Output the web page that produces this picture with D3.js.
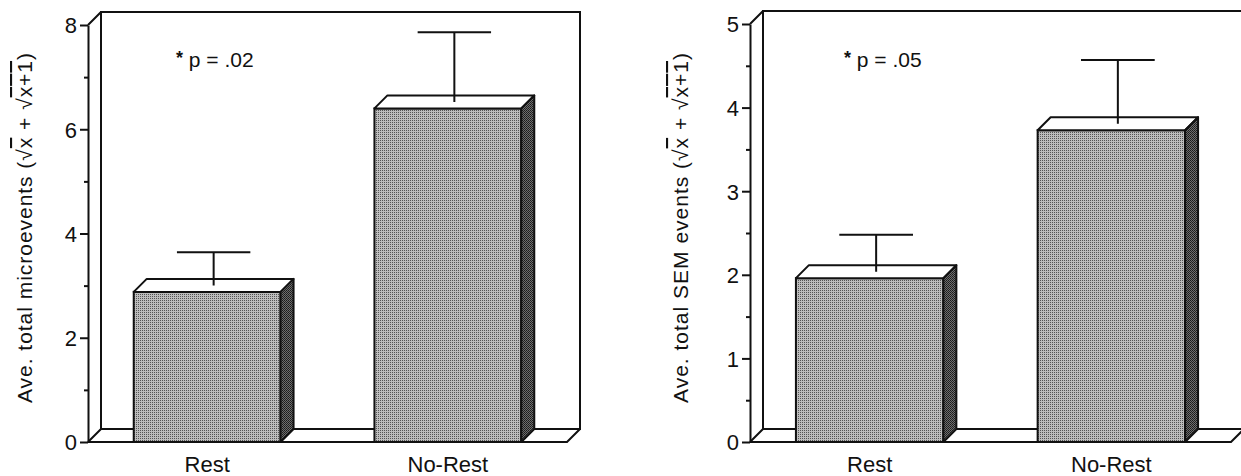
<!DOCTYPE html>
<html>
<head>
<meta charset="utf-8">
<script src="https://cdn.jsdelivr.net/npm/d3@7"></script>
<style>
  body { margin: 0; background: #fff; }
  text { font-family: "Liberation Sans", Arial, Helvetica, sans-serif; fill: #111; }
  .tick line { stroke: #111; stroke-width: 2; }
  .domain { stroke: #111; stroke-width: 2; }
  .ov { text-decoration: overline; }
</style>
</head>
<body>
<div id="chart"></div>
<script>
// data
var categories = ["Rest", "No-Rest"];
var microMeans = [2.88, 6.40];
var microErrTops = [3.64, 7.86];
var semMeans = [1.96, 3.73];
var semErrTops = [2.48, 4.57];
var microTicks = [0, 2, 4, 6, 8];
var microMinorTicks = [1, 3, 5, 7];
var semTicks = [0, 1, 2, 3, 4, 5];
var semMinorTicks = [0.5, 1.5, 2.5, 3.5, 4.5];
var pLabels = ["p = .02", "p = .05"];
var yTitles = ["Ave. total microevents (", "Ave. total SEM events ("];

var W = 1241, H = 476;
var depth = 13;
var baseY = 442;

var svg = d3.select("#chart").append("svg")
    .attr("width", W)
    .attr("height", H);

/***Patterns***/
var defs = svg.append("defs");
var stip = defs.append("pattern").attr("id", "stipple")
    .attr("patternUnits", "userSpaceOnUse").attr("width", 2).attr("height", 2);
stip.append("rect").attr("width", 2).attr("height", 2).attr("fill", "#bdbdbd");
stip.append("rect").attr("width", 1).attr("height", 1).attr("fill", "#555");

var dark = defs.append("pattern").attr("id", "darkside")
    .attr("patternUnits", "userSpaceOnUse").attr("width", 2).attr("height", 2);
dark.append("rect").attr("width", 2).attr("height", 2).attr("fill", "#6e6e6e");
dark.append("rect").attr("width", 1).attr("height", 1).attr("fill", "#1a1a1a");
dark.append("rect").attr("x", 1).attr("y", 1).attr("width", 1).attr("height", 1).attr("fill", "#262626");

var makePanel = function(cfg) {
  var x0 = cfg.left, x1 = cfg.left + cfg.width;

  /***Scales***/
  var yScale = d3.scaleLinear().domain([0, cfg.max]).range([baseY, cfg.top]);
  var xScale = d3.scaleBand().domain(categories)
      .range([x0, x1]).paddingInner(0.39).paddingOuter(0.19);
  var bw = xScale.bandwidth();
  var yTop = yScale(cfg.max), y0 = yScale(0);

  var g = svg.append("g");

  /***Back wall, side wall, floor***/
  g.append("path")
    .attr("d", "M" + (x0 + depth) + "," + (yTop - depth) +
               "L" + (x1 + depth) + "," + (yTop - depth) +
               "L" + (x1 + depth) + "," + (y0 - depth) +
               "L" + (x0 + depth) + "," + (y0 - depth) + "Z")
    .attr("fill", "none").attr("stroke", "#111").attr("stroke-width", 2);
  g.append("path")
    .attr("d", "M" + x0 + "," + yTop + "L" + (x0 + depth) + "," + (yTop - depth) +
               "M" + x0 + "," + y0 + "L" + (x0 + depth) + "," + (y0 - depth) +
               "M" + x0 + "," + y0 + "L" + x1 + "," + y0 + "L" + (x1 + depth) + "," + (y0 - depth))
    .attr("fill", "none").attr("stroke", "#111").attr("stroke-width", 2);

  /***Axes***/
  var yAxis = d3.axisLeft(yScale).tickValues(cfg.ticks).tickSize(8)
      .tickSizeOuter(0).tickPadding(3).tickFormat(d3.format("d"));
  var ax = g.append("g").attr("transform", "translate(" + x0 + ",0)").call(yAxis);
  ax.selectAll("text").style("font-size", "22px").attr("dy", "0.36em");

  var yMinor = d3.axisLeft(yScale).tickValues(cfg.minor).tickSize(4)
      .tickSizeOuter(0).tickFormat("");
  g.append("g").attr("transform", "translate(" + x0 + ",0)").call(yMinor)
    .select(".domain").remove();

  /***Bars***/
  var bars = g.selectAll(".bar").data(categories).enter().append("g").attr("class", "bar");

  bars.append("rect")
    .attr("x", function(d) { return xScale(d); })
    .attr("y", function(d, i) { return yScale(cfg.means[i]); })
    .attr("width", bw)
    .attr("height", function(d, i) { return y0 - yScale(cfg.means[i]); })
    .attr("fill", "url(#stipple)")
    .attr("stroke", "#111").attr("stroke-width", 2);

  bars.append("path")
    .attr("d", function(d, i) {
      var xl = xScale(d), xr = xl + bw, yt = yScale(cfg.means[i]);
      return "M" + xl + "," + yt + "L" + (xl + depth) + "," + (yt - depth) +
             "L" + (xr + depth) + "," + (yt - depth) + "L" + xr + "," + yt + "Z";
    })
    .attr("fill", "#fff").attr("stroke", "#111").attr("stroke-width", 2)
    .attr("stroke-linejoin", "round");

  bars.append("path")
    .attr("d", function(d, i) {
      var xr = xScale(d) + bw, yt = yScale(cfg.means[i]);
      return "M" + xr + "," + yt + "L" + (xr + depth) + "," + (yt - depth) +
             "L" + (xr + depth) + "," + (y0 - depth) + "L" + xr + "," + y0 + "Z";
    })
    .attr("fill", "url(#darkside)").attr("stroke", "#111").attr("stroke-width", 2)
    .attr("stroke-linejoin", "round");

  /***Error bars***/
  bars.append("path")
    .attr("d", function(d, i) {
      var cx = xScale(d) + bw / 2 + depth / 2;
      var yt = yScale(cfg.means[i]) - depth / 2;
      var ye = yScale(cfg.errs[i]);
      return "M" + cx + "," + yt + "L" + cx + "," + ye +
             "M" + (cx - bw / 4) + "," + ye + "L" + (cx + bw / 4) + "," + ye;
    })
    .attr("fill", "none").attr("stroke", "#111").attr("stroke-width", 2);

  /***Category labels***/
  g.selectAll(".xlab").data(categories).enter().append("text")
    .attr("x", function(d) { return xScale(d) + bw / 2; })
    .attr("y", 472)
    .attr("text-anchor", "middle")
    .style("font-size", "22px")
    .text(function(d) { return d; });

  /***p value note***/
  var note = g.append("text")
    .attr("x", x0 + cfg.noteDx).attr("y", 67)
    .style("font-size", "21px");
  note.append("tspan").text("*").style("font-size", "18px").style("font-weight", "bold")
    .attr("dy", "-3");
  note.append("tspan").text(" " + cfg.p).attr("dy", "3");

  /***Y title***/
  var t = g.append("text")
    .attr("transform", "translate(" + (x0 - cfg.titleDx) + ",228) rotate(-90)")
    .attr("text-anchor", "middle")
    .attr("dominant-baseline", "central")
    .attr("textLength", 350)
    .attr("lengthAdjust", "spacing")
    .style("font-size", "21px");
  t.append("tspan").text(cfg.title);
  t.append("tspan").text("\u221A");
  t.append("tspan").attr("class", "ov").text("x");
  t.append("tspan").text("  +  \u221A");
  t.append("tspan").attr("class", "ov").text("x+1");
  t.append("tspan").text(")");
};

makePanel({left: 88, width: 479, top: 25, max: 8, ticks: microTicks, minor: microMinorTicks,
           means: microMeans, errs: microErrTops, p: pLabels[0], title: yTitles[0],
           noteDx: 88, titleDx: 64});
makePanel({left: 750, width: 481, top: 24, max: 5, ticks: semTicks, minor: semMinorTicks,
           means: semMeans, errs: semErrTops, p: pLabels[1], title: yTitles[1],
           noteDx: 94, titleDx: 70});
</script>
</body>
</html>
